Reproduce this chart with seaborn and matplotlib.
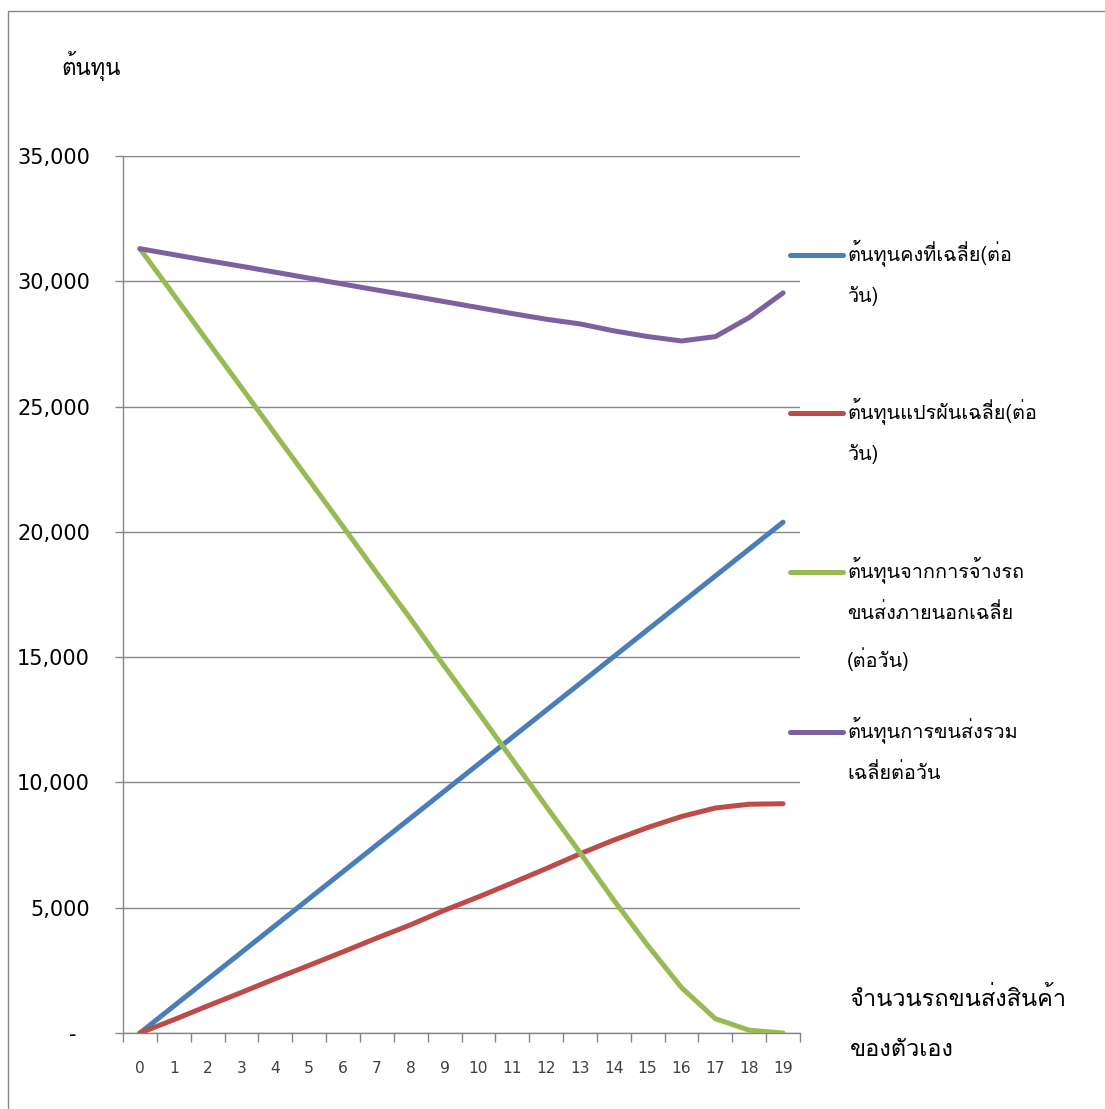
import numpy as np
import pandas as pd
import matplotlib
matplotlib.use("Agg")
import matplotlib.pyplot as plt
import seaborn as sns
from matplotlib import font_manager as fm
from matplotlib.lines import Line2D
from matplotlib.patches import Rectangle

# ---------------- data ----------------
trucks = list(range(20))
fixed_cost = [0, 1073, 2146, 3219, 4292, 5365, 6438, 7511, 8584, 9657,
              10730, 11803, 12876, 13949, 15022, 16095, 17168, 18241, 19314, 20387]
variable_cost = [0, 530, 1080, 1620, 2170, 2700, 3240, 3790, 4320, 4900,
                 5430, 5990, 6560, 7150, 7700, 8200, 8640, 8980, 9130, 9150]
outsource_cost = [31300, 29460, 27600, 25760, 23900, 22060, 20210, 18350, 16520, 14630,
                  12790, 10920, 9050, 7200, 5300, 3500, 1810, 570, 110, 0]
total_cost = [31300, 31063, 30826, 30599, 30362, 30125, 29888, 29651, 29424, 29187,
              28950, 28713, 28486, 28299, 28022, 27795, 27618, 27791, 28554, 29537]

series_names = ["ต้นทุนคงที่เฉลี่ย(ต่อ\nวัน)",
                "ต้นทุนแปรผันเฉลี่ย(ต่อ\nวัน)",
                "ต้นทุนจากการจ้างรถ\nขนส่งภายนอกเฉลี่ย\n(ต่อวัน)",
                "ต้นทุนการขนส่งรวม\nเฉลี่ยต่อวัน"]
series_colors = ["#4A7EBB", "#BE4B48", "#98B954", "#7D60A0"]
y_ticks = [0, 5000, 10000, 15000, 20000, 25000, 30000, 35000]
y_title = "ต้นทุน"
x_title = "จำนวนรถขนส่งสินค้า\nของตัวเอง"

# ---------------- fonts ----------------
thai_family = None
try:
    from fontTools.ttLib import TTFont
    for f in fm.fontManager.ttflist:
        try:
            tt = TTFont(f.fname, fontNumber=0, lazy=True)
            cmap = tt.getBestCmap()
            if cmap and 0x0E15 in cmap and 0x0E49 in cmap and 0x0E19 in cmap:
                thai_family = f.name
                break
        except Exception:
            pass
except Exception:
    pass

sns.set_theme(style="white")
fams = ([thai_family] if thai_family else []) + ["DejaVu Sans"]
plt.rcParams["font.family"] = fams

W, H = 1105, 1109
fig = plt.figure(figsize=(W / 100, H / 100), dpi=100)
fig.patch.set_facecolor("white")

def fx(px):
    return px / W

def fy(py):
    return 1 - py / H

ax = fig.add_axes([fx(123), fy(1033), fx(800) - fx(123), fy(156) - fy(1033)])

df = pd.DataFrame({
    "n": trucks * 4,
    "value": fixed_cost + variable_cost + outsource_cost + total_cost,
    "series": sum([[s] * len(trucks) for s in series_names], []),
})
LW = 3.6
sns.lineplot(data=df, x="n", y="value", hue="series", hue_order=series_names,
             palette=series_colors, linewidth=LW, ax=ax, legend=False,
             solid_capstyle="round")

grid_c = "#868686"
ax.set_xlim(-0.5, 19.5)
ax.set_ylim(0, 35000)
ax.set_yticks(y_ticks)
ax.set_yticklabels(["-  "] + [f"{v:,}" for v in y_ticks[1:]],
                   fontsize=15, color="black", family="DejaVu Sans")
ax.set_xticks(trucks)
ax.set_xticklabels([str(t) for t in trucks], fontsize=11.2, color="#404040",
                   family="DejaVu Sans")
ax.set_xticks(np.arange(-0.5, 20, 1), minor=True)
ax.tick_params(axis="x", which="major", length=0, pad=20)
ax.tick_params(axis="x", which="minor", length=6.5, width=1, color=grid_c, direction="out")
ax.tick_params(axis="y", which="major", length=5.8, width=1, color=grid_c, direction="out", pad=18)
ax.tick_params(left=True, bottom=True, which="both")
ax.yaxis.grid(True, color=grid_c, linewidth=1)
ax.xaxis.grid(False)
for s in ["top", "right"]:
    ax.spines[s].set_visible(False)
for s in ["left", "bottom"]:
    ax.spines[s].set_color(grid_c)
    ax.spines[s].set_linewidth(1)
ax.set_xlabel("")
ax.set_ylabel("")
for ln in ax.get_lines():
    ln.set_zorder(3)

# axis titles
fig.text(fx(61), fy(66), y_title, fontsize=16, ha="left", va="center", color="black")
fig.text(fx(850), fy(987), x_title, fontsize=17, ha="left", va="top",
         color="black", linespacing=2.5)

# legend (manual, first-line aligned like the original)
leg_y = [255, 413, 572, 732]
for ln, name, yy in zip(ax.get_lines()[:4], series_names, leg_y):
    fig.add_artist(Line2D([fx(790), fx(843)], [fy(yy), fy(yy)], color=ln.get_color(),
                          linewidth=LW, solid_capstyle="round"))
    fig.text(fx(847), fy(yy - 16), name, fontsize=14.3, ha="left", va="top",
             color="black", linespacing=2.25)

# outer chart border
fig.add_artist(Rectangle((fx(7.5), -0.05), 1.2, fy(11) + 0.05, fill=False,
                         edgecolor=grid_c, linewidth=1, transform=fig.transFigure))

fig.savefig("out.png", dpi=100, facecolor="white")
